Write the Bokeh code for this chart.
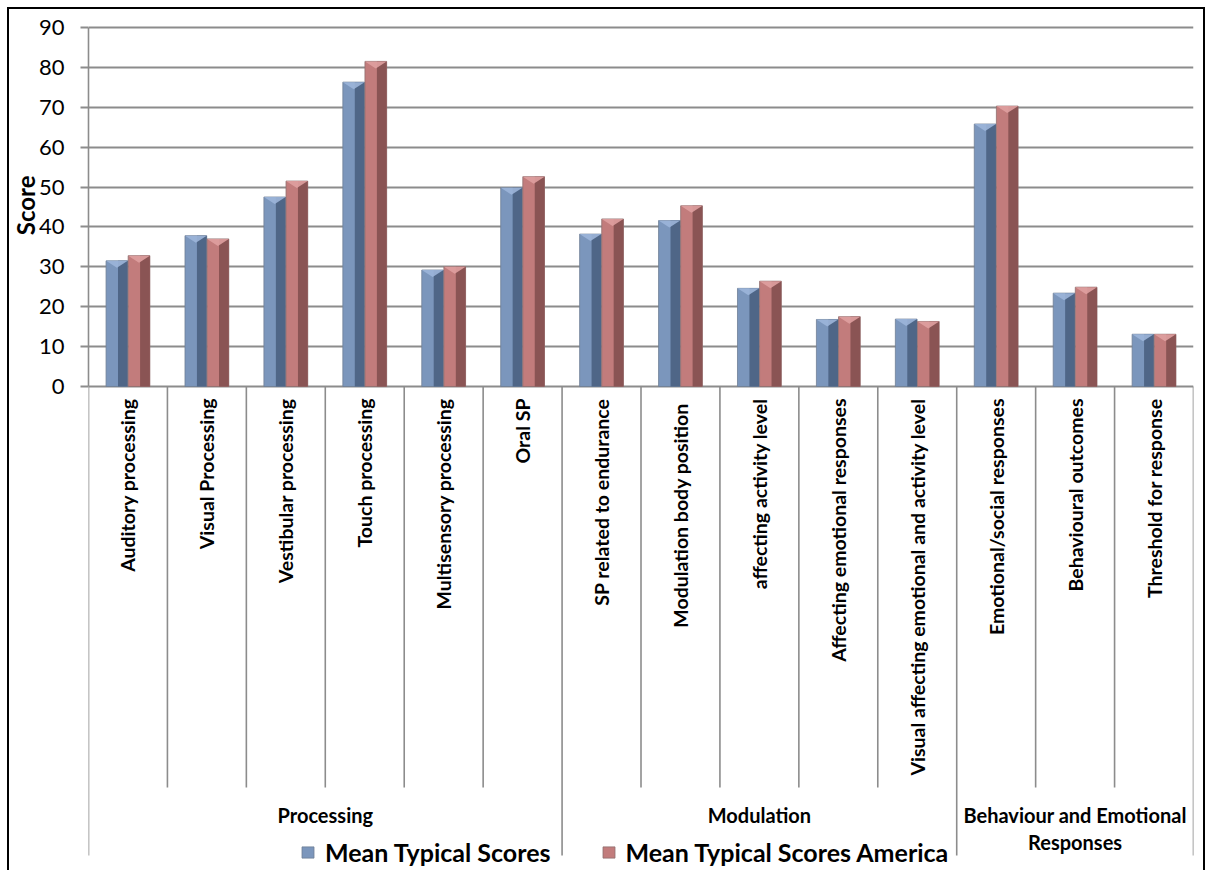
import numpy as np
from bokeh.plotting import figure
from bokeh.models import Range1d, FixedTicker, ColumnDataSource, Legend, LegendItem, Title
from bokeh.transform import dodge
from bokeh.embed import file_html
from bokeh.resources import INLINE
from bokeh.core.properties import value

# ---------------- data ----------------
groups = ["Processing", "Modulation", "Behaviour and Emotional\nResponses"]
group_sizes = [6, 5, 3]
categories = [
    "Auditory processing", "Visual Processing", "Vestibular processing",
    "Touch processing", "Multisensory processing", "Oral SP",
    "SP related to endurance", "Modulation  body position",
    "affecting activity level", "Affecting emotional responses",
    "Visual affecting emotional and activity level",
    "Emotional/social responses", "Behavioural outcomes", "Threshold for response",
]
mean_typical = [31.5, 37.8, 47.5, 76.3, 29.2, 49.8, 38.2, 41.6, 24.6, 16.8, 16.9, 65.8, 23.4, 13.1]
mean_america = [32.8, 37.0, 51.5, 81.5, 30.0, 52.6, 42.0, 45.3, 26.4, 17.5, 16.3, 70.3, 24.9, 13.1]
series_names = ["Mean Typical Scores", "Mean Typical Scores America"]
y_ticks = list(range(0, 91, 10))
y_label = "Score"

# ---------------- layout constants (page pixels) ----------------
MARGIN, BORDER = 7, 2
OX = OY = MARGIN + BORDER      # canvas origin on page
W, H = 1198, 863
FRAME_L, FRAME_R = 88, 1193
ZERO_PX, TOP_PX = 386, 27
PXU = (ZERO_PX - TOP_PX) / 90.0
Y_TOP = 90.5
frame_top = TOP_PX - (Y_TOP - 90) * PXU
Y_BOT = -((OY + H) - ZERO_PX) / PXU

GRID = "#8c8c8c"
FONT = value("Lato")

n = len(categories)
centers = np.arange(n) + 0.5
BAR_W = 0.275
OFF = 0.14

p = figure(width=W, height=H, x_range=Range1d(0, n), y_range=Range1d(Y_BOT, Y_TOP),
           output_backend="svg", toolbar_location=None, x_axis_location=None,
           min_border_left=FRAME_L - OX, min_border_right=(OX + W) - FRAME_R,
           min_border_top=int(round(frame_top - OY)), min_border_bottom=0)
p.styles = {"margin-left": f"{MARGIN}px", "margin-top": f"{MARGIN}px",
            "border-left": f"{BORDER}px solid black", "border-top": f"{BORDER}px solid black",
            "border-right": f"{BORDER}px solid black"}
p.outline_line_color = None
p.background_fill_color = "white"
p.border_fill_color = "white"
p.xgrid.visible = False

p.ygrid.ticker = FixedTicker(ticks=y_ticks)
p.ygrid.grid_line_color = GRID
p.ygrid.grid_line_width = 1.8

ax = p.yaxis[0]
ax.ticker = FixedTicker(ticks=y_ticks)
ax.bounds = (y_ticks[0], y_ticks[-1])
ax.axis_line_color = GRID
ax.axis_line_width = 1.6
ax.major_tick_out = 8
ax.major_tick_in = 0
ax.major_tick_line_color = GRID
ax.major_tick_line_width = 1.8
ax.minor_tick_line_color = None
ax.major_label_text_font = "Lato"
ax.major_label_text_font_size = "22px"
ax.major_label_text_color = "black"
ax.major_label_standoff = 16

# y-axis title placed beside the 0..90 span (the frame also holds the label area)
score_top_px = 205 - 30          # page y of the title's upper end
p.add_layout(Title(text=y_label, align="right", offset=score_top_px - frame_top,
                   standoff=-8, text_font="Lato", text_font_style="bold",
                   text_font_size="24px", text_color="black"), "left")

# ---------------- separators ----------------
def px2v(px):
    return -px / PXU

INNER_DEPTH = px2v(787 - ZERO_PX)
GROUP_DEPTH = px2v(855 - ZERO_PX)
bounds = np.concatenate([[0], np.cumsum(group_sizes)])
inner = [i for i in range(1, n) if i not in bounds]
p.segment(x0=inner, x1=inner, y0=0, y1=INNER_DEPTH, line_color=GRID, line_width=1.6)
p.segment(x0=bounds, x1=bounds, y0=0, y1=GROUP_DEPTH, line_color=GRID, line_width=1.6)

# ---------------- bars ----------------
src = ColumnDataSource(dict(x=centers, a=mean_typical, b=mean_america))
BLUE_L, BLUE_D, BLUE_C = "#7b96bc", "#4f6687", "#9cb5d9"
RED_L, RED_D, RED_C = "#c27c7c", "#8a5454", "#dfa0a0"
rb = p.vbar(x=dodge("x", -OFF, range=p.x_range), top="a", width=BAR_W, source=src,
            fill_color=BLUE_L, line_color="#6f7f95", line_width=0.8)
p.vbar(x=dodge("x", -OFF + BAR_W * 0.275, range=p.x_range), top="a", width=BAR_W * 0.45,
       source=src, fill_color=BLUE_D, line_color=None)
rr = p.vbar(x=dodge("x", OFF, range=p.x_range), top="b", width=BAR_W, source=src,
            fill_color=RED_L, line_color="#8f6f6f", line_width=0.8)
p.vbar(x=dodge("x", OFF + BAR_W * 0.275, range=p.x_range), top="b", width=BAR_W * 0.45,
       source=src, fill_color=RED_D, line_color=None)

# bevelled caps on the bar tops (derived from the data values)
CAP = 7 / PXU
def caps(vals, off):
    xs, ys = [], []
    for c, v in zip(centers, vals):
        xl, xr = c + off - BAR_W / 2, c + off + BAR_W / 2
        xs.append([xl, xr, c + off])
        ys.append([v, v, v - CAP])
    return xs, ys
cx, cy = caps(mean_typical, -OFF)
p.patches(xs=cx, ys=cy, fill_color=BLUE_C, line_color=None, fill_alpha=0.9)
cx, cy = caps(mean_america, OFF)
p.patches(xs=cx, ys=cy, fill_color=RED_C, line_color=None, fill_alpha=0.9)

# ---------------- category labels ----------------
p.text(x=centers, y=0, text=categories, angle=np.pi / 2, text_align="right",
       text_baseline="middle", y_offset=12, text_font=FONT, text_font_style="bold",
       text_font_size="19.5px", text_color="black")

gcent = [(bounds[i] + bounds[i + 1]) / 2 for i in range(len(groups))]
p.text(x=gcent, y=0, text=groups, text_align="center", text_baseline="top",
       y_offset=803 - ZERO_PX, text_font=FONT, text_font_style="bold",
       text_font_size="20px", text_line_height=1.12, text_color="black")

# ---------------- legend ----------------
legend = Legend(items=[LegendItem(label=series_names[0], renderers=[rb]),
                       LegendItem(label=series_names[1], renderers=[rr])],
                orientation="horizontal", location=(300 - FRAME_L, 5),
                padding=0, margin=0, spacing=50, label_standoff=10,
                glyph_width=15, glyph_height=14, border_line_color=None,
                background_fill_alpha=0, label_text_font="Lato",
                label_text_font_style="bold", label_text_font_size="25px",
                label_text_color="black")
p.add_layout(legend)

open("out.html", "w").write(file_html(p, INLINE))
